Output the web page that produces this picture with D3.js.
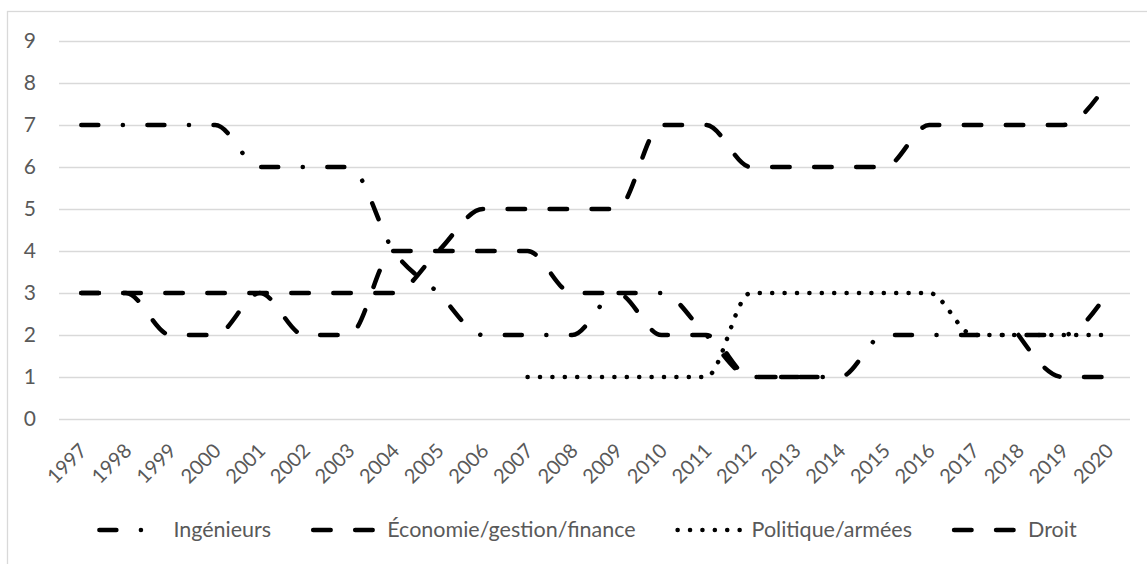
<!DOCTYPE html>
<html>
<head>
<meta charset="utf-8">
<script src="https://cdn.jsdelivr.net/npm/d3@7"></script>
<style>
  body { margin: 0; background: #fff; }
  svg { display: block; }
  text { font-family: Lato, "Liberation Sans", sans-serif; fill: #595959; }
</style>
</head>
<body>
<div class="chart"></div>
<script>
// DATA
const YEARS = ["1997", "1998", "1999", "2000", "2001", "2002", "2003", "2004",
  "2005", "2006", "2007", "2008", "2009", "2010", "2011", "2012", "2013",
  "2014", "2015", "2016", "2017", "2018", "2019", "2020"];
const INGENIEURS = [7, 7, 7, 7, 6, 6, 6, 4, 3, 2, 2, 2, 3, 3, 2, 1, 1, 1, 2, 2, 2, 2, 2, 3];
const ECONOMIE = [3, 3, 3, 3, 3, 3, 3, 3, 4, 5, 5, 5, 5, 7, 7, 6, 6, 6, 6, 7, 7, 7, 7, 8];
const POLITIQUE = [null, null, null, null, null, null, null, null, null, null,
  1, 1, 1, 1, 1, 3, 3, 3, 3, 3, 2, 2, 2, 2];
const DROIT = [3, 3, 2, 2, 3, 2, 2, 4, 4, 4, 4, 3, 3, 2, 2, 1, 1, 1, null, null, null, 2, 1, 1];
const Y_TICKS = [0, 1, 2, 3, 4, 5, 6, 7, 8, 9];
const SERIES_NAMES = ["Ingénieurs", "Économie/gestion/finance", "Politique/armées", "Droit"];

// GLOBAL CONSTANTS
const FRAME_WIDTH = 1147;
const FRAME_HEIGHT = 564;
const PLOT = {left: 59, right: 1130, top: 41, bottom: 419};
const FONT_SIZE = 21;

const DASHES = {
  dashdot: "17,24.5,0.1,24.5",
  dash: "17.5,24.5",
  dot: "0.1,12.3"
};

const series = [
  {name: SERIES_NAMES[0], values: INGENIEURS, dash: DASHES.dashdot},
  {name: SERIES_NAMES[1], values: ECONOMIE, dash: DASHES.dash},
  {name: SERIES_NAMES[2], values: POLITIQUE, dash: DASHES.dot},
  {name: SERIES_NAMES[3], values: DROIT, dash: DASHES.dash}
];

const FRAME = d3.select(".chart")
  .append("svg")
    .attr("width", FRAME_WIDTH)
    .attr("height", FRAME_HEIGHT);

// chart border
FRAME.append("rect")
  .attr("x", 7.5)
  .attr("y", 11.5)
  .attr("width", 1160)
  .attr("height", 570)
  .attr("fill", "none")
  .attr("stroke", "#d9d9d9")
  .attr("stroke-width", 1.3);

const X_SCALE = d3.scalePoint()
  .domain(YEARS)
  .range([PLOT.left, PLOT.right])
  .padding(0.5);

const Y_SCALE = d3.scaleLinear()
  .domain([0, 9])
  .range([PLOT.bottom, PLOT.top]);

// gridlines + y labels
const yAxis = FRAME.append("g")
  .attr("transform", "translate(" + PLOT.left + ",0)")
  .call(d3.axisLeft(Y_SCALE)
    .tickValues(Y_TICKS)
    .tickSize(-(PLOT.right - PLOT.left))
    .tickPadding(23));
yAxis.select(".domain").remove();
yAxis.selectAll(".tick line")
  .attr("stroke", "#d9d9d9")
  .attr("stroke-width", 1.3);
yAxis.selectAll(".tick text")
  .attr("font-size", FONT_SIZE + "px")
  .style("font-family", "Lato, 'Liberation Sans', sans-serif")
  .attr("fill", "#595959");

// x labels (rotated)
FRAME.append("g")
  .selectAll("text")
  .data(YEARS)
  .enter()
  .append("text")
    .attr("transform", (d) => "translate(" + (X_SCALE(d) + 7) + ",452) rotate(-45)")
    .attr("text-anchor", "end")
    .attr("font-size", "20px")
    .text((d) => d);

// lines
const line = d3.line()
  .defined((d) => d != null)
  .x((d, i) => X_SCALE(YEARS[i]))
  .y((d) => Y_SCALE(d))
  .curve(d3.curveMonotoneX);

FRAME.append("g")
  .selectAll("path")
  .data(series)
  .enter()
  .append("path")
    .attr("d", (d) => line(d.values))
    .attr("fill", "none")
    .attr("stroke", "#000")
    .attr("stroke-width", 4.5)
    .attr("stroke-linecap", "round")
    .attr("stroke-linejoin", "round")
    .attr("stroke-dasharray", (d) => d.dash);

// legend
const SAMPLE_W = 66;
const GAP = 40;
const legend = FRAME.append("g");
const items = legend.selectAll("g")
  .data(series)
  .enter()
  .append("g");
items.append("line")
  .attr("x1", 2).attr("x2", SAMPLE_W)
  .attr("y1", 0).attr("y2", 0)
  .attr("stroke", "#000")
  .attr("stroke-width", 4.5)
  .attr("stroke-linecap", "round")
  .attr("stroke-dasharray", (d) => d.dash);
items.append("text")
  .attr("x", SAMPLE_W + 10)
  .attr("y", 7)
  .attr("font-size", "21.5px")
  .text((d) => d.name);

let pos = 0;
const offsets = [];
items.each(function () {
  offsets.push(pos);
  const tw = d3.select(this).select("text").node().getComputedTextLength();
  pos += SAMPLE_W + 10 + tw + GAP;
});
const total = pos - GAP;
const start = 587 - total / 2;
items.attr("transform", (d, i) => "translate(" + (start + offsets[i]) + ",530)");
</script>
</body>
</html>
